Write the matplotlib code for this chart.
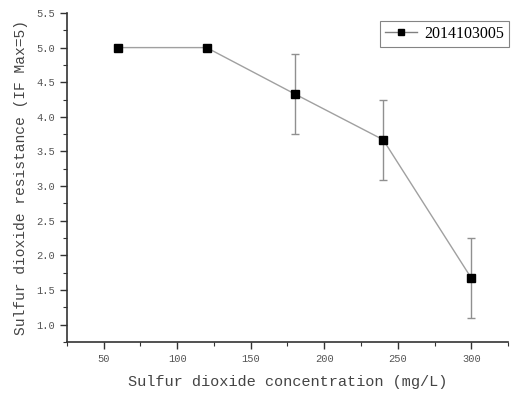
import matplotlib
matplotlib.use("Agg")
import matplotlib.pyplot as plt
from matplotlib.ticker import MultipleLocator, FormatStrFormatter
from matplotlib.lines import Line2D

concentration = [60, 120, 180, 240, 300]
resistance = [5.0, 5.0, 4.33, 3.67, 1.67]
errors = [0.0, 0.0, 0.58, 0.58, 0.58]
series_label = "2014103005"
xlabel = "Sulfur dioxide concentration (mg/L)"
ylabel = "Sulfur dioxide resistance (IF Max=5)"

fig = plt.figure(figsize=(5.18, 3.93), dpi=100)
ax = fig.add_axes([0.129, 0.130, 0.852, 0.837])

ax.errorbar(concentration, resistance, yerr=errors, color="#a0a0a0", lw=1.0,
            ecolor="#909090", elinewidth=1.0, capsize=3, capthick=1.0,
            marker="s", markersize=5.5, markerfacecolor="black",
            markeredgecolor="black", zorder=3)

ax.set_xlim(25, 325)
ax.set_ylim(0.75, 5.5)
ax.xaxis.set_major_locator(MultipleLocator(50))
ax.xaxis.set_minor_locator(MultipleLocator(25))
ax.yaxis.set_major_locator(MultipleLocator(0.5))
ax.yaxis.set_minor_locator(MultipleLocator(0.25))
ax.yaxis.set_major_formatter(FormatStrFormatter("%.1f"))

for s in ["top", "right"]:
    ax.spines[s].set_visible(False)
for s in ["left", "bottom"]:
    ax.spines[s].set_linewidth(1.2)
    ax.spines[s].set_color("#333333")

ax.tick_params(which="major", direction="out", length=5, width=1.0,
               colors="#333333", labelsize=7.5, labelcolor="#555555")
ax.tick_params(which="minor", direction="out", length=3, width=0.8,
               colors="#333333")
for lab in ax.get_xticklabels() + ax.get_yticklabels():
    lab.set_family("Liberation Mono")

ax.set_xlabel(xlabel, family="Liberation Mono", fontsize=11, color="#444444",
              labelpad=8)
ax.set_ylabel(ylabel, family="Liberation Mono", fontsize=10.5, color="#444444",
              labelpad=6)

handle = Line2D([], [], color="#808080", lw=1.0, marker="s", markersize=5,
                markerfacecolor="black", markeredgecolor="black")
leg = ax.legend(handles=[handle], labels=[series_label], loc="upper left",
                bbox_to_anchor=(380 / 518, 1 - 21 / 393),
                bbox_transform=fig.transFigure, frameon=True, fancybox=False,
                prop={"family": "Liberation Serif", "size": 11.5},
                handlelength=2.0, borderpad=0.3, handletextpad=0.5,
                borderaxespad=0)
leg.get_frame().set_edgecolor("#666666")
leg.get_frame().set_linewidth(0.8)

fig.savefig("out.png", dpi=100)
